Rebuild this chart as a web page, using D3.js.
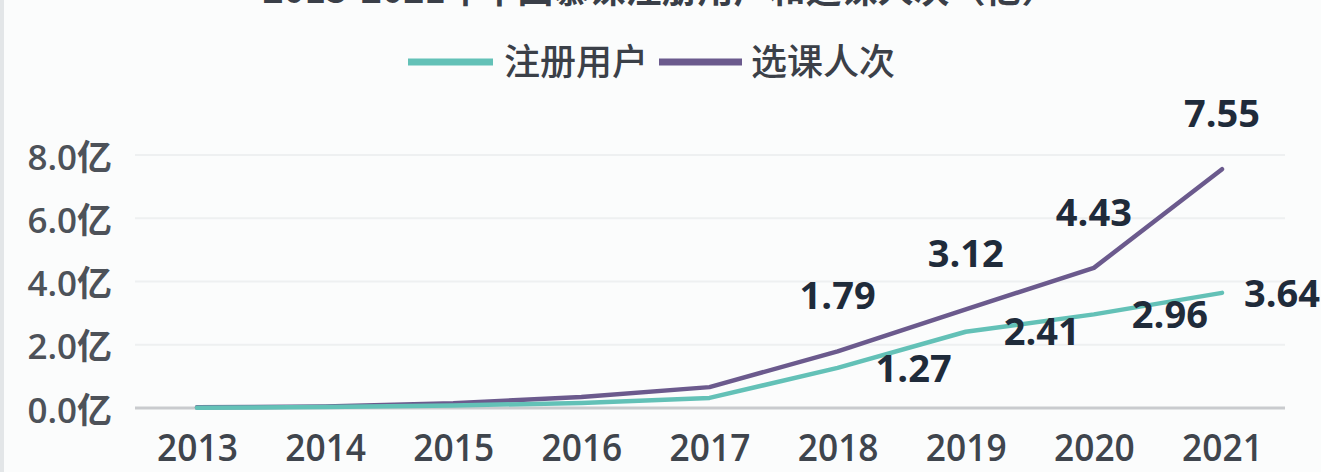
<!DOCTYPE html>
<html><head><meta charset="utf-8">
<script src="https://cdn.jsdelivr.net/npm/d3@7"></script>
<style>
html,body{margin:0;padding:0;background:#fbfcfc;}
svg{display:block;font-family:"Noto Sans CJK SC","Noto Sans",sans-serif;}
</style></head>
<body><svg id="c" width="1321" height="472"></svg>
<script>
const title = "2013-2021年中国慕课注册用户和选课人次（亿）";
const years = ["2013","2014","2015","2016","2017","2018","2019","2020","2021"];
const registered = [0.01, 0.03, 0.08, 0.16, 0.32, 1.27, 2.41, 2.96, 3.64];
const enrolled   = [0.02, 0.05, 0.15, 0.35, 0.66, 1.79, 3.12, 4.43, 7.55];
const registeredLabels = [null,null,null,null,null,"1.27","2.41","2.96","3.64"];
const enrolledLabels   = [null,null,null,null,null,"1.79","3.12","4.43","7.55"];
const yTicks = [0, 2, 4, 6, 8];
const seriesNames = ["注册用户", "选课人次"];

const W = 1321;
const svg = d3.select("#c");
const teal = "#63c1b7", purple = "#6b5a8d";

svg.append("line").attr("x1",2).attr("x2",2).attr("y1",0).attr("y2",472)
  .attr("stroke","#e3e6e8").attr("stroke-width",4);

svg.append("text").attr("x",660).attr("y",3).attr("text-anchor","middle")
  .attr("font-size",36).attr("font-weight",700).attr("fill","#3a3f48").text(title);

const x = d3.scalePoint().domain(years).range([197, 1222]);
const y = d3.scaleLinear().domain([0, 8]).range([408, 155]);

// grid
const grid = svg.append("g");
yTicks.forEach(t => {
  grid.append("line").attr("x1",135).attr("x2",1285).attr("y1",y(t)).attr("y2",y(t))
    .attr("stroke", t===0 ? "#c9cbce" : "#eef0f1").attr("stroke-width", t===0 ? 3 : 2);
});

// y axis
const ya = svg.append("g").attr("transform","translate(112,0)")
  .call(d3.axisLeft(y).tickValues(yTicks).tickSize(0).tickPadding(0).tickFormat(d => d3.format(".1f")(d) + "亿"));
ya.select(".domain").remove();
ya.selectAll("text").attr("font-size",35).attr("fill","#4d5259").attr("font-weight",600)
  .attr("font-family","'Open Sans','Noto Sans CJK SC',sans-serif").attr("dy","0.4em");

// x axis
const xa = svg.append("g").attr("transform","translate(0,452)")
  .call(d3.axisBottom(x).tickSize(0).tickPadding(0));
xa.select(".domain").remove();
xa.selectAll("text").attr("font-size",38).attr("fill","#3f454d").attr("font-weight",600)
  .attr("font-family","'Open Sans','Noto Sans',sans-serif").attr("y",9).attr("dy",0)
  .attr("transform","scale(0.93,1)");

const line = d3.line().x((d,i)=>x(years[i])).y(d=>y(d)).curve(d3.curveLinear);

svg.append("path").datum(enrolled).attr("d",line).attr("fill","none")
  .attr("stroke",purple).attr("stroke-width",4.5).attr("stroke-linejoin","round").attr("stroke-linecap","round");
svg.append("path").datum(registered).attr("d",line).attr("fill","none")
  .attr("stroke",teal).attr("stroke-width",4.5).attr("stroke-linejoin","round").attr("stroke-linecap","round");

const lab = svg.append("g").attr("font-size",38).attr("font-weight",700).attr("fill","#1f2b3a")
  .attr("font-family","'Open Sans','Noto Sans',sans-serif").attr("text-anchor","middle");
enrolled.forEach((v,i) => {
  if (!enrolledLabels[i]) return;
  lab.append("text").attr("x", x(years[i])).attr("y", y(v) - 56).attr("dy","0.36em").text(enrolledLabels[i]);
});
registered.forEach((v,i) => {
  if (!registeredLabels[i]) return;
  const lx = Math.min(x(years[i]) + 76, W - 39);
  lab.append("text").attr("x", lx).attr("y", y(v)).attr("dy","0.36em").text(registeredLabels[i]);
});

// legend
const lg = svg.append("g").attr("font-size",36).attr("font-weight",500).attr("fill","#3b4048");
lg.append("line").attr("x1",408).attr("x2",493).attr("y1",62).attr("y2",62).attr("stroke",teal).attr("stroke-width",7);
lg.append("text").attr("x",504).attr("y",62).attr("dy","0.36em").text(seriesNames[0]);
lg.append("line").attr("x1",659).attr("x2",742).attr("y1",62).attr("y2",62).attr("stroke",purple).attr("stroke-width",7);
lg.append("text").attr("x",751).attr("y",62).attr("dy","0.36em").text(seriesNames[1]);
</script></body></html>
